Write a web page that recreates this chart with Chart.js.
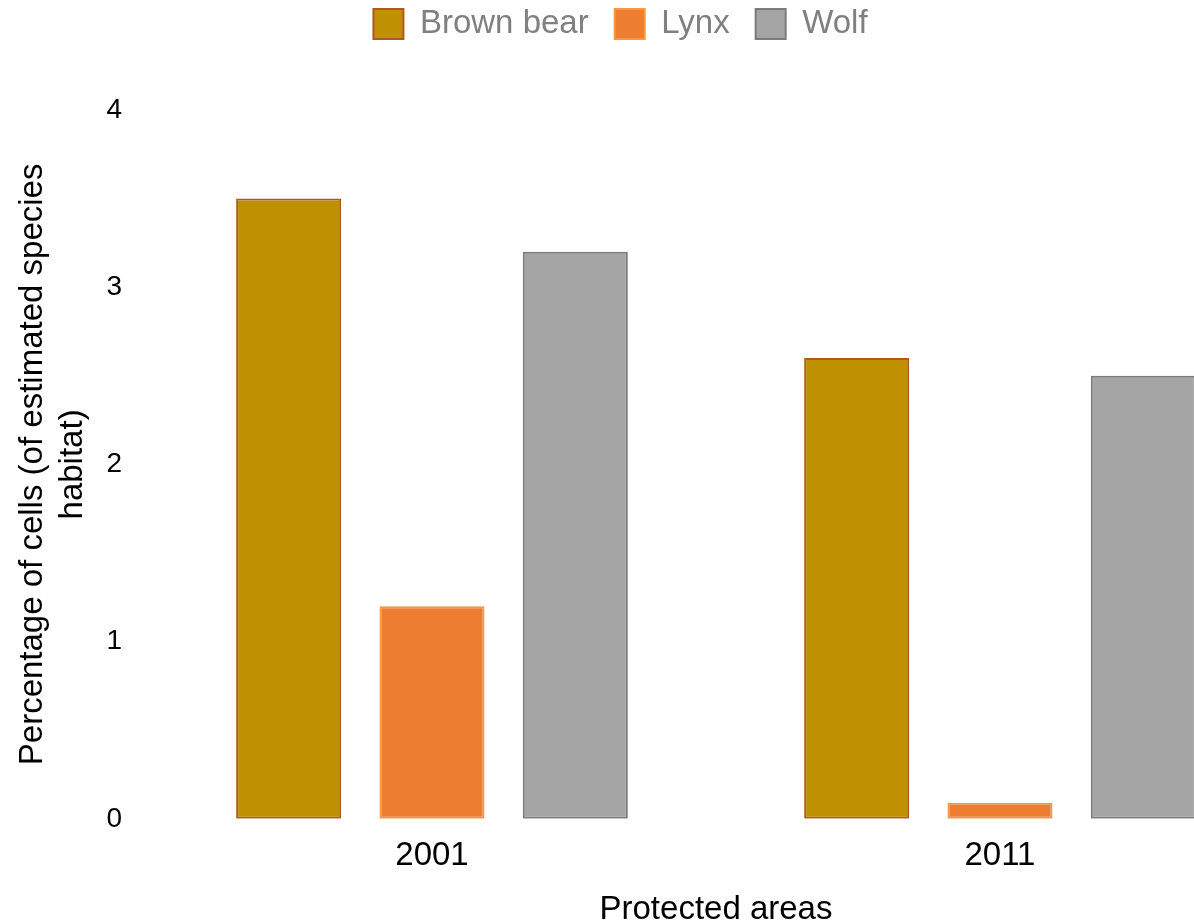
<!DOCTYPE html>
<html>
<head>
<meta charset="utf-8">
<script src="https://cdn.jsdelivr.net/npm/chart.js@4/dist/chart.umd.min.js"></script>
<style>
  html, body { margin: 0; padding: 0; overflow: hidden; background: #fff; }
  #wrap { position: relative; width: 1290px; height: 922px; }
</style>
</head>
<body>
<div id="wrap"><canvas id="c"></canvas></div>
<script>
const categories = ['2001', '2011'];
const brownBear = [3.5, 2.6];
const lynx = [1.2, 0.09];
const wolf = [3.2, 2.5];
const yTicks = [0, 1, 2, 3, 4];

const FONT = '"Liberation Sans", Arial, Helvetica, sans-serif';

const legendShift = {
  id: 'legendShift',
  afterLayout(chart) {
    const lg = chart.legend;
    if (!lg) return;
    const dx = 21.5, dy = 59.5;
    lg.left -= dx; lg.right -= dx;
    lg.top -= dy; lg.bottom -= dy;
  }
};

new Chart(document.getElementById('c'), {
  type: 'bar',
  data: {
    labels: categories,
    datasets: [
      { label: 'Brown bear', data: brownBear, backgroundColor: '#BF9000', borderColor: '#B0581F', borderWidth: 2, borderSkipped: false },
      { label: 'Lynx', data: lynx, backgroundColor: '#ED7D31', borderColor: '#F7963F', borderWidth: 2, borderSkipped: false },
      { label: 'Wolf', data: wolf, backgroundColor: '#A5A5A5', borderColor: '#7B7B7B', borderWidth: 2, borderSkipped: false }
    ]
  },
  plugins: [legendShift],
  options: {
    responsive: true,
    maintainAspectRatio: false,
    animation: false,
    devicePixelRatio: 1,
    layout: { padding: { left: 0, right: 6, top: 41, bottom: -8 } },
    datasets: { bar: { categoryPercentage: 0.757, barPercentage: 0.733 } },
    plugins: {
      legend: {
        position: 'top',
        labels: {
          font: { family: FONT, size: 33 },
          color: '#808080',
          boxWidth: 30,
          boxHeight: 30,
          padding: 26
        }
      },
      tooltip: { enabled: false }
    },
    scales: {
      x: {
        grid: { display: false },
        border: { display: false },
        ticks: { font: { family: FONT, size: 33 }, color: '#000', padding: 9.2 },
        title: {
          display: true,
          text: 'Protected areas',
          font: { family: FONT, size: 33 },
          color: '#000',
          padding: { top: 5.6, bottom: 0 }
        }
      },
      y: {
        min: 0,
        max: 4,
        grid: { display: false },
        border: { display: false },
        afterBuildTicks(scale) { scale.ticks = yTicks.map(v => ({ value: v })); },
        ticks: { font: { family: FONT, size: 28 }, color: '#000', padding: 18 },
        title: {
          display: true,
          text: ['Percentage of cells (of estimated species', 'habitat)'],
          font: { family: FONT, size: 33 },
          color: '#000',
          padding: { top: 13.2, bottom: -4 }
        }
      }
    }
  }
});
</script>
</body>
</html>
